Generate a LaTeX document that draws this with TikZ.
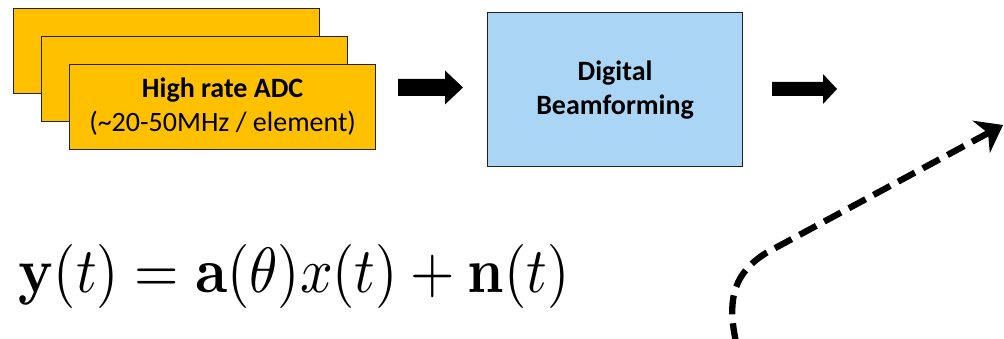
\documentclass[tikz,border=0pt]{standalone}
\usepackage[no-math]{fontspec}
\usepackage{graphicx}
\setmainfont{Carlito}
\usetikzlibrary{arrows.meta}
\definecolor{adcfill}{HTML}{FFC000}
\definecolor{bffill}{HTML}{AAD5F5}
\definecolor{boxline}{HTML}{222222}
\tikzset{
  adcbox/.style={draw=boxline, line width=1.2pt, fill=adcfill, minimum width=306pt, minimum height=85pt, anchor=north west, inner sep=0pt, align=center, font=\fontsize{28}{34}\selectfont},
  bfbox/.style={draw=boxline, line width=1.2pt, fill=bffill, minimum width=255pt, minimum height=154pt, anchor=north west, inner sep=0pt, align=center, font=\fontsize{28}{34}\selectfont\bfseries},
  blockarrow/.style={fill=black},
  dashcurve/.style={line width=6.3pt, dash pattern=on 19pt off 9pt, -{Stealth[length=25pt, width=37pt, inset=8pt, line width=0pt]}}
}
\begin{document}
\begin{tikzpicture}[x=1pt, y=-1pt]
\useasboundingbox (0,0) rectangle (1004,339);
\node[adcbox] (adc1) at (13,8) {};
\node[adcbox] (adc2) at (41,36) {};
\node[adcbox] (adc3) at (69,64) {\textbf{High rate ADC}\\(\textasciitilde 20-50MHz / element)};
\node[bfbox] (bf) at (487,12) {Digital\\Beamforming};
% block arrows
\coordinate (a1) at (398,87.5);
\coordinate (a2) at (772,89);
\fill[blockarrow] (a1) ++(0,-8.5) -- ++(47,0) -- ++(0,-8.5) -- ++(18,17) -- ++(-18,17) -- ++(0,-8.5) -- ++(-47,0) -- cycle;
\fill[blockarrow] (a2) ++(0,-7) -- ++(51,0) -- ++(0,-8) -- ++(14,15) -- ++(-14,15) -- ++(0,-8) -- ++(-51,0) -- cycle;
% equation
\node[anchor=base west, inner sep=0pt] (eq) at (18,292) {\scalebox{1}[1.12]{\resizebox{551pt}{!}{$\mathbf{y}(t) = \mathbf{a}(\theta)x(t) + \mathbf{n}(t)$}}};
% dashed curved arrow
\coordinate (cs) at (736,342);
\coordinate (cm) at (766,253);
\coordinate (ce) at (1003,125);
\draw[dashcurve] (cs) .. controls (726,296) and (736,272) .. (cm) -- (ce);
\end{tikzpicture}
\end{document}
